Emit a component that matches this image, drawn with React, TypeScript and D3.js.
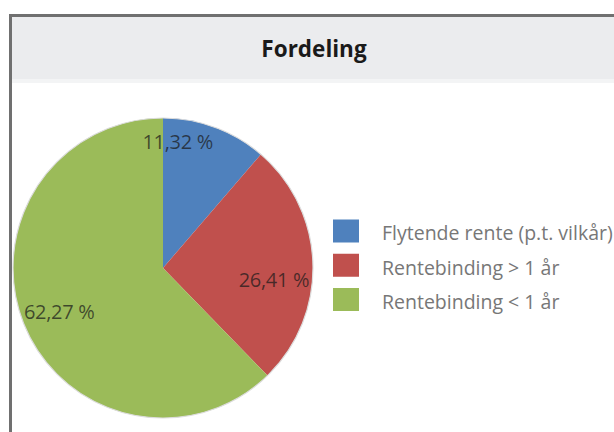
import React from "react";
import * as d3 from "d3";

const title = "Fordeling";
const categories = ["Flytende rente (p.t. vilkår)", "Rentebinding > 1 år", "Rentebinding < 1 år"];
const values = [11.32, 26.41, 62.27];
const labels = ["11,32 %", "26,41 %", "62,27 %"];
const colors = ["#4f81bd", "#c0504d", "#9bbb59"];
// label nudges (layout, not data)
const labelNudge = [[-24, -22], [0, 15], [-1, 2]];

const W = 614, H = 432;
const cx = 163, cy = 268, R = 150;

export default function App() {
  const pie = d3.pie<number>().sort(null).value((d) => d)(values);
  const arc = d3.arc<d3.PieArcDatum<number>>().innerRadius(0).outerRadius(R);
  const labelArc = d3.arc<d3.PieArcDatum<number>>().innerRadius(R * 0.74).outerRadius(R * 0.74);
  const legendY = d3.scalePoint<number>().domain([0, 1, 2]).range([231.5, 300]);
  const font = "'Open Sans', 'Liberation Sans', sans-serif";
  return (
    <svg width={W} height={H} style={{ position: "absolute", left: 0, top: 0, background: "#fff" }}>
      <rect x={0} y={0} width={W} height={H} fill="#fff" />
      <rect x={12} y={17} width={W - 12} height={62} fill="#ebecee" />
      <rect x={12} y={79} width={W - 12} height={4} fill="#f3f4f5" />
      <line x1={10.5} y1={15.5} x2={W} y2={15.5} stroke="#707070" strokeWidth={3} />
      <line x1={10.5} y1={14} x2={10.5} y2={H} stroke="#707070" strokeWidth={3} />
      <text x={314} y={57} textAnchor="middle" fontFamily={font} fontWeight={700} fontSize={22.5} fill="#1a1a1a">
        {title}
      </text>
      <g transform={`translate(${cx},${cy})`}>
        {pie.map((p, i) => (
          <path key={i} d={arc(p) || ""} fill={colors[i]} />
        ))}
        <circle r={R} fill="none" stroke="#dcdcdc" strokeWidth={1.2} />
        {pie.map((p, i) => {
          const [x, y] = labelArc.centroid(p);
          return (
            <text key={i} x={x + labelNudge[i][0]} y={y + labelNudge[i][1]} dy="0.35em" textAnchor="middle"
              fontFamily={font} fontSize={20} fill="#1a1a1a" fillOpacity={0.72} letterSpacing={-0.3}>
              {labels[i]}
            </text>
          );
        })}
      </g>
      {categories.map((c, i) => (
        <g key={i} transform={`translate(333,${legendY(i)})`}>
          <rect x={0} y={-12} width={26} height={23} fill={colors[i]} />
          <text x={49} y={2} dy="0.35em" fontFamily={font} fontSize={19.5} fill="#777">
            {c}
          </text>
        </g>
      ))}
    </svg>
  );
}
